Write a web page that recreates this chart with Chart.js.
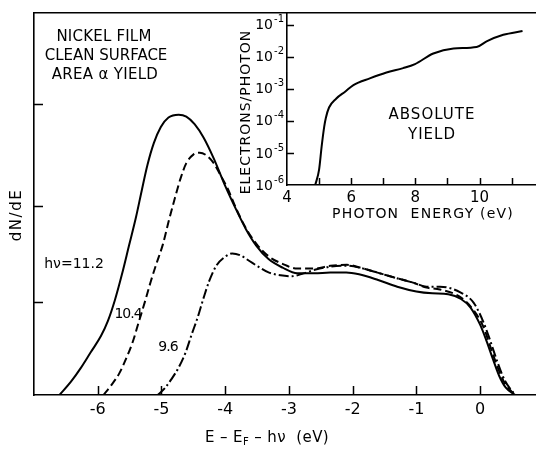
<!DOCTYPE html>
<html>
<head>
<meta charset="utf-8">
<script src="https://cdn.jsdelivr.net/npm/chart.js@4.4.1/dist/chart.umd.min.js"></script>
<style>
  html, body { margin: 0; padding: 0; background: #fff; }
  #wrap { position: relative; width: 536px; height: 449px; }
  #wrap canvas { position: absolute; left: 0; top: 0; }
</style>
</head>
<body>
<div id="wrap">
  <canvas id="spectra" width="536" height="449"></canvas>
  <canvas id="yield" width="536" height="449"></canvas>
</div>
<script>
// energy distribution curves, E - Ef - hv (eV) against dN/dE (arb. units)
var e112 = [-6.60, -6.42, -6.27, -6.11, -5.95, -5.84, -5.73, -5.62, -5.51, -5.40, -5.31, -5.22, -5.12, -5.01, -4.89, -4.73, -4.61, -4.48, -4.34, -4.18, -4.00, -3.82, -3.67, -3.51, -3.32, -3.10, -2.87, -2.60, -2.35, -2.10, -1.90, -1.60, -1.30, -1.00, -0.75, -0.50, -0.30, -0.15, 0.00, 0.10, 0.20, 0.30, 0.40, 0.55];
var n112 = [0, 0.14, 0.28, 0.45, 0.62, 0.78, 1.00, 1.27, 1.57, 1.87, 2.15, 2.42, 2.65, 2.82, 2.92, 2.95, 2.93, 2.85, 2.71, 2.49, 2.20, 1.94, 1.74, 1.57, 1.43, 1.34, 1.28, 1.28, 1.29, 1.29, 1.27, 1.21, 1.14, 1.09, 1.07, 1.06, 1.01, 0.92, 0.74, 0.57, 0.38, 0.20, 0.08, 0];

var e104 = [-5.91, -5.78, -5.66, -5.55, -5.45, -5.36, -5.26, -5.17, -5.08, -4.98, -4.89, -4.79, -4.70, -4.61, -4.50, -4.40, -4.29, -4.18, -4.07, -3.96, -3.82, -3.67, -3.51, -3.32, -3.10, -2.87, -2.61, -2.35, -2.09, -1.83, -1.57, -1.31, -1.04, -0.84, -0.63, -0.31, -0.10, 0.05, 0.16, 0.27, 0.39, 0.55];
var n104 = [0, 0.11, 0.23, 0.39, 0.56, 0.76, 0.98, 1.19, 1.38, 1.58, 1.82, 2.07, 2.28, 2.44, 2.53, 2.55, 2.52, 2.44, 2.31, 2.17, 1.95, 1.75, 1.59, 1.46, 1.38, 1.33, 1.33, 1.36, 1.37, 1.33, 1.28, 1.23, 1.18, 1.13, 1.11, 1.03, 0.89, 0.72, 0.51, 0.30, 0.12, 0];

var e96 = [-5.06, -4.95, -4.84, -4.73, -4.62, -4.53, -4.43, -4.34, -4.25, -4.14, -4.01, -3.89, -3.76, -3.62, -3.48, -3.32, -3.13, -2.95, -2.77, -2.58, -2.35, -2.09, -1.83, -1.57, -1.31, -1.04, -0.84, -0.63, -0.31, -0.10, 0.05, 0.16, 0.27, 0.39, 0.55];
var n96 = [0, 0.07, 0.17, 0.29, 0.45, 0.63, 0.82, 1.02, 1.20, 1.36, 1.45, 1.49, 1.47, 1.41, 1.35, 1.29, 1.26, 1.25, 1.28, 1.32, 1.35, 1.36, 1.33, 1.28, 1.23, 1.18, 1.14, 1.14, 1.08, 0.97, 0.77, 0.57, 0.35, 0.15, 0];

var energyTicks = [-6, -5, -4, -3, -2, -1, 0];
var dNdETicks = [0.98, 1.99, 3.06];

// absolute photoyield (electrons/photon) against photon energy (eV)
var photonE = [4.88, 5.0, 5.08, 5.16, 5.21, 5.31, 5.53, 5.81, 6.07, 6.58, 7.1, 7.62, 7.99, 8.56, 9.19, 9.91, 10.22, 10.74, 11.34];
var yieldVal = [1.0e-6, 3.0e-6, 1.6e-5, 6.6e-5, 1.23e-4, 2.6e-4, 4.9e-4, 8.1e-4, 1.3e-3, 2.1e-3, 3.2e-3, 4.4e-3, 5.9e-3, 1.26e-2, 1.8e-2, 2.0e-2, 3.0e-2, 4.8e-2, 6.3e-2];

var photonTicks = [4, 5, 6, 7, 8, 9, 10, 11];
var yieldTicks = [1e-6, 1e-5, 1e-4, 1e-3, 1e-2, 1e-1];
var yieldTickExp = ['-6', '-5', '-4', '-3', '-2', '-1'];

var FONT = '"DejaVu Sans", sans-serif';

function pts(xs, ys) {
  return xs.map(function (x, i) { return { x: x, y: ys[i] }; });
}

// short tick marks pointing into the plot
var inwardTicks = {
  id: 'inwardTicks',
  afterDraw: function (chart, args, opts) {
    var ctx = chart.ctx, area = chart.chartArea;
    var xs = chart.scales.x, ys = chart.scales.y;
    ctx.save();
    ctx.strokeStyle = '#000';
    ctx.lineWidth = opts.width || 1.5;
    ctx.beginPath();
    (opts.x || []).forEach(function (v) {
      var px = Math.round(xs.getPixelForValue(v)) + 0.5;
      ctx.moveTo(px, area.bottom);
      ctx.lineTo(px, area.bottom - opts.len);
    });
    (opts.y || []).forEach(function (v) {
      var py = Math.round(ys.getPixelForValue(v)) + 0.5;
      ctx.moveTo(area.left, py);
      ctx.lineTo(area.left + opts.len, py);
    });
    ctx.stroke();
    ctx.restore();
  }
};

// "10" with a raised exponent beside each decade of the log axis
var powerLabels = {
  id: 'powerLabels',
  afterDraw: function (chart, args, opts) {
    if (!opts.values) return;
    var ctx = chart.ctx, ys = chart.scales.y, right = chart.chartArea.left - 3;
    ctx.save();
    ctx.fillStyle = '#000';
    ctx.textAlign = 'right';
    ctx.textBaseline = 'middle';
    opts.values.forEach(function (v, i) {
      var py = ys.getPixelForValue(v);
      ctx.font = '10px ' + FONT;
      var w = ctx.measureText(opts.exps[i]).width;
      ctx.fillText(opts.exps[i], right, py - 5);
      ctx.font = '14px ' + FONT;
      ctx.fillText('10', right - w - 1, py + 1);
    });
    ctx.restore();
  }
};

// free text: captions, curve labels and axis titles
var notes = {
  id: 'notes',
  afterDraw: function (chart, args, opts) {
    var ctx = chart.ctx;
    (opts.items || []).forEach(function (it) {
      ctx.save();
      ctx.fillStyle = '#000';
      ctx.textBaseline = 'middle';
      ctx.letterSpacing = (it.spacing || 0) + 'px';
      ctx.translate(it.x, it.y);
      if (it.rotate) ctx.rotate(it.rotate);
      var parts = it.parts || [{ t: it.text }];
      var total = 0;
      parts.forEach(function (p) {
        ctx.font = (p.size || it.size) + 'px ' + FONT;
        p.w = ctx.measureText(p.t).width;
        total += p.w;
      });
      var cx = -total / 2;
      ctx.textAlign = 'left';
      parts.forEach(function (p) {
        ctx.font = (p.size || it.size) + 'px ' + FONT;
        ctx.fillText(p.t, cx, p.dy || 0);
        cx += p.w;
      });
      ctx.restore();
    });
  }
};

var axisBorder = { display: true, color: '#000', width: 1.6 };
var noGrid = { display: false, drawTicks: false };
var lineStyle = { point: { radius: 0 }, line: { cubicInterpolationMode: 'monotone', fill: false } };

new Chart(document.getElementById('spectra'), {
  type: 'line',
  data: {
    datasets: [
      { label: 'h\u03bd = 11.2', data: pts(e112, n112), borderColor: '#000', borderWidth: 2 },
      { label: '10.4', data: pts(e104, n104), borderColor: '#000', borderWidth: 2, borderDash: [8, 4] },
      { label: '9.6', data: pts(e96, n96), borderColor: '#000', borderWidth: 2, borderDash: [10, 3, 2, 3] }
    ]
  },
  options: {
    responsive: false,
    animation: false,
    events: [],
    layout: { padding: 0 },
    elements: lineStyle,
    plugins: {
      legend: { display: false },
      tooltip: { enabled: false },
      inwardTicks: { x: energyTicks, y: dNdETicks, len: 9 },
      notes: {
        items: [
          { text: 'NICKEL FILM', x: 104, y: 37, size: 15, spacing: 0.2 },
          { text: 'CLEAN SURFACE', x: 106, y: 56, size: 15, spacing: 0 },
          { text: 'AREA \u03b1 YIELD', x: 105, y: 75, size: 15, spacing: 0.3 },
          { text: 'dN/dE', x: 17, y: 215, size: 15, spacing: 1.5, rotate: -Math.PI / 2 },
          { text: 'h\u03bd=11.2', x: 74, y: 264, size: 14 },
          { text: '10.4', x: 128, y: 314, size: 14, spacing: -1 },
          { text: '9.6', x: 168, y: 347, size: 14, spacing: -1 },
          { x: 267, y: 438, size: 15, spacing: 0.4, parts: [
            { t: 'E \u2013 E' }, { t: 'F', size: 10, dy: 4 }, { t: ' \u2013 h\u03bd  (eV)' }
          ] }
        ]
      }
    },
    scales: {
      x: {
        type: 'linear', min: -7, max: 0.877,
        afterBuildTicks: function (s) { s.ticks = energyTicks.map(function (v) { return { value: v }; }); },
        afterFit: function (s) { s.height = 54; },
        grid: noGrid, border: axisBorder,
        ticks: { color: '#000', font: { family: FONT, size: 16 }, padding: 5, autoSkip: false, maxRotation: 0,
          callback: function (v) { return String(v); } }
      },
      xTop: {
        type: 'linear', position: 'top', min: -7, max: 0.877,
        afterFit: function (s) { s.height = 13; },
        grid: noGrid, border: axisBorder, ticks: { display: false }
      },
      y: {
        type: 'linear', min: 0, max: 4.02,
        afterFit: function (s) { s.width = 34; },
        grid: noGrid, border: axisBorder, ticks: { display: false }
      }
    }
  },
  plugins: [inwardTicks, notes]
});

new Chart(document.getElementById('yield'), {
  type: 'line',
  data: {
    datasets: [
      { label: 'absolute yield', data: pts(photonE, yieldVal), borderColor: '#000', borderWidth: 2 }
    ]
  },
  options: {
    responsive: false,
    animation: false,
    events: [],
    layout: { padding: { top: 13, right: 0, left: 0, bottom: 0 } },
    elements: lineStyle,
    plugins: {
      legend: { display: false },
      tooltip: { enabled: false },
      inwardTicks: { x: photonTicks.slice(1), y: yieldTicks.slice(1), len: 7 },
      powerLabels: { values: yieldTicks, exps: yieldTickExp },
      notes: {
        items: [
          { text: 'ELECTRONS/PHOTON', x: 246, y: 112, size: 14, spacing: 1, rotate: -Math.PI / 2 },
          { text: 'ABSOLUTE', x: 432, y: 115, size: 15, spacing: 1 },
          { text: 'YIELD', x: 432, y: 135, size: 15, spacing: 1 },
          { text: 'PHOTON  ENERGY (eV)', x: 423, y: 214, size: 14, spacing: 1.2 }
        ]
      }
    },
    scales: {
      x: {
        type: 'linear', min: 4, max: 11.76,
        afterBuildTicks: function (s) { s.ticks = photonTicks.map(function (v) { return { value: v }; }); },
        afterFit: function (s) { s.height = 449 - 185; },
        grid: noGrid, border: axisBorder,
        ticks: { color: '#000', font: { family: FONT, size: 15 }, padding: 4, autoSkip: false, maxRotation: 0,
          callback: function (v) { return v % 2 === 0 ? String(v) : ''; } }
      },
      y: {
        type: 'logarithmic', min: 1e-6, max: 0.23,
        afterBuildTicks: function (s) { s.ticks = yieldTicks.map(function (v) { return { value: v }; }); },
        afterFit: function (s) { s.width = 287; },
        grid: noGrid, border: axisBorder, ticks: { display: false }
      }
    }
  },
  plugins: [inwardTicks, powerLabels, notes]
});
</script>
</body>
</html>
